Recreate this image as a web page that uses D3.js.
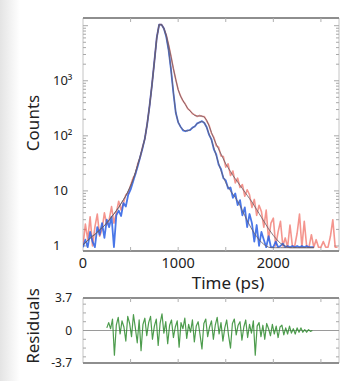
<!DOCTYPE html>
<html>
<head>
<meta charset="utf-8">
<script src="https://cdn.jsdelivr.net/npm/d3@7"></script>
<style>
  body { margin: 0; background: #fff; }
  svg { display: block; font-family: "Noto Sans", sans-serif; }
</style>
</head>
<body>
<script>
"use strict";

// time grid (ps) for the decays
const times = [
    0, 25, 50, 75, 100, 125, 150, 175, 200, 225, 250, 275, 300, 325, 350, 375,
    400, 425, 450, 475, 500, 525, 550, 575, 600, 625, 650, 675, 700, 725, 750, 775,
    800, 825, 850, 875, 900, 925, 950, 975, 1000, 1025, 1050, 1075, 1100, 1125, 1150, 1175,
    1200, 1225, 1250, 1275, 1300, 1325, 1350, 1375, 1400, 1425, 1450, 1475, 1500, 1525, 1550, 1575,
    1600, 1625, 1650, 1675, 1700, 1725, 1750, 1775, 1800, 1825, 1850, 1875, 1900, 1925, 1950, 1975,
    2000, 2025, 2050, 2075, 2100, 2125, 2150, 2175, 2200, 2225, 2250, 2275, 2300, 2325, 2350, 2375,
    2400, 2425, 2450, 2475, 2500, 2525, 2550, 2575, 2600, 2625, 2650, 2675
];

// measured counts
const redCounts = [
    1.0, 2.5, 1.3, 3.4, 1.0, 2.2, 3.8, 1.5, 2.0, 4.0, 2.4, 3.0, 5.2, 2.6, 4.0, 6.5,
    4.5, 6.0, 8.5, 9.0, 12.5, 17, 20, 31, 40, 62, 88, 168, 352, 855, 2230, 6000,
    10450, 10500, 8900, 6780, 4450, 2760, 1650, 1055, 688, 530, 432, 378, 312, 287, 252, 240,
    224, 235, 226, 224, 186, 156, 111, 94, 66, 62, 43, 42, 27, 31, 19, 23,
    14, 17, 11.5, 13, 8, 10.5, 8.5, 5, 7, 3.6, 5.5, 4.2, 2.2, 4.5, 1.3, 2.6,
    3.2, 1.0, 1.8, 2.8, 1.0, 1.4, 0.95, 2.4, 1.0, 1.0, 1.7, 3.8, 0.95, 2.8, 1.0, 0.95,
    1.6, 0.95, 1.3, 0.95, 0.95, 1.2, 0.95, 0.95, 1.5, 3.0, 0.95, 0.95
];

const blueCounts = [
    0.95, 1.3, 0.95, 1.8, 1.2, 0.95, 2.2, 1.6, 2.6, 1.4, 3.0, 2.2, 3.4, 0.95, 3.6, 4.4,
    3.5, 6.0, 5.2, 8.5, 10.5, 14.5, 20, 28, 41, 59, 90, 165, 356, 848, 2245, 6050,
    10480, 10460, 8930, 6290, 3560, 1580, 605, 262, 176, 147, 126, 121, 126, 127, 141, 148,
    168, 175, 185, 171, 143, 104, 86, 57, 46, 30, 25, 17, 15.5, 11, 11.5, 7.5,
    9, 5.5, 6.8, 3.6, 5, 2.2, 3.8, 2.6, 1.2, 2.4, 1.0, 1.8, 1.3, 0.95, 1.5, 0.95,
    0.95, 1.2, 0.95, 1.0, 1.1, 0.95, 1.0, 0.95, 1.0, 0.95, 1.0, 0.95, 1.0, 0.95, 1.0, 0.95,
    0.95, 0.95
];

// fitted decays
const redFit = [
    1.05, 1.15, 1.26, 1.38, 1.51, 1.62, 1.78, 1.95, 2.14, 2.34, 2.63, 2.95, 3.39, 3.80, 4.37, 5.01,
    5.89, 6.92, 8.13, 10, 12.3, 15.8, 21.4, 29.5, 41.7, 60.3, 89.1, 166, 355, 851, 2239, 6026,
    10470, 10470, 8913, 6761, 4467, 2754, 1660, 1047, 692, 525, 437, 372, 316, 282, 257, 234,
    229, 229, 229, 219, 191, 151, 115, 89.1, 70.8, 57.5, 46.8, 38.0, 30.9, 26.3, 22.4, 19.1,
    16.6, 14.5, 12.6, 11.0, 9.55, 8.32, 7.24, 6.31, 5.37, 4.57, 3.89, 3.31, 2.82, 2.40, 2.04, 1.78,
    1.55, 1.38, 1.23, 1.12, 1.05, 1.0, 0.95, 0.93, 0.93, 0.93, 0.93, 0.93, 0.93, 0.93, 0.93, 0.93,
    0.93, 0.93
];

const blueFit = [
    1.05, 1.15, 1.26, 1.38, 1.51, 1.62, 1.78, 1.95, 2.14, 2.34, 2.63, 2.95, 3.39, 3.80, 4.37, 5.01,
    5.89, 6.92, 8.13, 10, 12.3, 15.8, 21.4, 29.5, 41.7, 60.3, 89.1, 166, 355, 851, 2239, 6026,
    10470, 10470, 8913, 6310, 3548, 1585, 603, 263, 178, 145, 129, 123, 123, 129, 138, 151,
    166, 178, 182, 174, 141, 107, 83.2, 60.3, 43.7, 31.6, 23.4, 17.8, 14.1, 11.7, 10, 8.71,
    7.59, 6.46, 5.37, 4.37, 3.55, 2.88, 2.40, 2.0, 1.70, 1.48, 1.29, 1.17, 1.07, 1.0, 0.95, 0.93,
    0.93, 0.93, 0.93, 0.93, 0.93, 0.93, 0.93, 0.93, 0.93, 0.93, 0.93, 0.93, 0.93, 0.93, 0.93, 0.93,
    0.93, 0.93
];

// weighted residuals on their own grid
const residTimes = [
    250, 270, 290, 310, 330, 350, 370, 390, 410, 430, 450, 470, 490, 510, 530, 550,
    570, 590, 610, 630, 650, 670, 690, 710, 730, 750, 770, 790, 810, 830, 850, 870,
    890, 910, 930, 950, 970, 990, 1010, 1030, 1050, 1070, 1090, 1110, 1130, 1150, 1170, 1190,
    1210, 1230, 1250, 1270, 1290, 1310, 1330, 1350, 1370, 1390, 1410, 1430, 1450, 1470, 1490, 1510,
    1530, 1550, 1570, 1590, 1610, 1630, 1650, 1670, 1690, 1710, 1730, 1750, 1770, 1790, 1810, 1830,
    1850, 1870, 1890, 1910, 1930, 1950, 1970, 1990, 2010, 2030, 2050, 2070, 2090, 2110, 2130, 2150,
    2170, 2190, 2210, 2230, 2250, 2270, 2290, 2310, 2330, 2350, 2370, 2390, 2410
];
const residuals = [
    0.3, 0.9, 0.2, 1.3, -2.8, 0.6, 1.5, -0.4, 1.1, 0.4, -1.2, 1.6, 0.8, -0.7, 1.8, 0.3,
    -1.4, 1.2, -2.3, 0.7, 1.4, -0.6, 0.9, 1.6, -1.0, 0.5, 1.3, -1.7, 0.8, 1.9, -0.3, 1.0,
    -1.5, 0.6, 1.2, -0.8, 0.4, 1.1, -1.9, 0.9, 0.2, 1.4, -0.9, 0.7, -0.2, 1.2, -1.3, 0.5,
    1.0, -0.5, -2.1, 0.8, 1.3, -0.7, 0.4, 1.1, -1.0, 0.6, 1.5, -0.4, 0.9, -1.2, 0.3, 1.2,
    -0.6, -2.0, 0.8, 1.3, -0.5, 0.6, 1.0, -1.1, 0.4, 1.2, -0.8, 0.7, -0.3, 1.1, -2.8, 0.5,
    0.9, -0.7, 0.6, -1.0, 0.8, 0.2, -0.6, 0.7, -0.4, 0.5, -0.8, 0.4, 0.6, -0.5, 0.3, -0.4,
    0.5, -0.3, 0.2, -0.4, 0.3, -0.2, 0.3, -0.2, 0.1, -0.2, 0.1, -0.1, 0.0
];

const xTicks = [0, 1000, 2000];
const yTicks = [1, 10, 100, 1000];
const yTickLabels = ["1", "10", "10²", "10³"];
const residTicks = [3.7, 0, -3.7];
const residTickLabels = ["3.7", "0", "-3.7"];

const W = 349, H = 381;
const plot = { left: 83, right: 339, top: 18, bottom: 251 };
const resid = { top: 298, bottom: 363 };

const svg = d3.select("body").append("svg")
    .attr("width", W)
    .attr("height", H);

// soft shading on the left edge
const defs = svg.append("defs");
const grad = defs.append("linearGradient").attr("id", "edge");
grad.append("stop").attr("offset", "0%").attr("stop-color", "#e4e4e4");
grad.append("stop").attr("offset", "100%").attr("stop-color", "#ffffff");
svg.append("rect")
    .attr("x", 0).attr("y", 0)
    .attr("width", 20).attr("height", H)
    .attr("fill", "url(#edge)");

defs.append("clipPath").attr("id", "clipMain")
    .append("rect")
    .attr("x", plot.left).attr("y", plot.top)
    .attr("width", plot.right - plot.left).attr("height", plot.bottom - plot.top);

const x = d3.scaleLinear().domain([0, 2690]).range([plot.left, plot.right]);
const y = d3.scaleLog().domain([0.81, 13800]).range([plot.bottom, plot.top]);
const yr = d3.scaleLinear().domain([-3.7, 3.7]).range([resid.bottom, resid.top]);

// Frames
function frame(top, bottom) {
    const g = svg.append("g");
    g.append("line")
        .attr("x1", plot.left).attr("x2", plot.left)
        .attr("y1", top).attr("y2", bottom)
        .attr("stroke", "#c4c4c4").attr("stroke-width", 1);
    g.append("line")
        .attr("x1", plot.right).attr("x2", plot.right)
        .attr("y1", top).attr("y2", bottom)
        .attr("stroke", "#c4c4c4").attr("stroke-width", 1);
    g.append("line")
        .attr("x1", plot.left).attr("x2", plot.right)
        .attr("y1", top).attr("y2", top)
        .attr("stroke", "#8e8e8e").attr("stroke-width", 2);
    g.append("line")
        .attr("x1", plot.left).attr("x2", plot.right)
        .attr("y1", bottom).attr("y2", bottom)
        .attr("stroke", "#8e8e8e").attr("stroke-width", 2);
    // ticks along top and bottom, every 500 ps
    const xt = d3.range(500, 2690, 500);
    g.selectAll(null).data(xt).join("line")
        .attr("x1", (d) => x(d)).attr("x2", (d) => x(d))
        .attr("y1", bottom).attr("y2", bottom - 4)
        .attr("stroke", "#b0b0b0");
    g.selectAll(null).data(xt).join("line")
        .attr("x1", (d) => x(d)).attr("x2", (d) => x(d))
        .attr("y1", top).attr("y2", top + 4)
        .attr("stroke", "#b0b0b0");
    return g;
}

frame(plot.top, plot.bottom);
frame(resid.top, resid.bottom);

// log ticks on both sides of the counts panel
const minor = [];
for (const dec of [1, 10, 100, 1000, 10000]) {
    for (let k = 1; k <= 9; k++) {
        const v = dec * k;
        if (v >= 0.81 && v <= 13800) minor.push({ v: v, major: k === 1 });
    }
}
const tickG = svg.append("g").attr("stroke", "#a8a8a8");
tickG.selectAll(null).data(minor).join("line")
    .attr("x1", plot.left).attr("x2", (d) => plot.left + (d.major ? 5 : 3))
    .attr("y1", (d) => y(d.v)).attr("y2", (d) => y(d.v));
tickG.selectAll(null).data(minor).join("line")
    .attr("x1", plot.right).attr("x2", (d) => plot.right - (d.major ? 5 : 3))
    .attr("y1", (d) => y(d.v)).attr("y2", (d) => y(d.v));

// residual side ticks
const rt = [-3, -2, -1, 0, 1, 2, 3];
tickG.selectAll(null).data(rt).join("line")
    .attr("x1", plot.left).attr("x2", plot.left + 3)
    .attr("y1", (d) => yr(d)).attr("y2", (d) => yr(d));
tickG.selectAll(null).data(rt).join("line")
    .attr("x1", plot.right).attr("x2", plot.right - 3)
    .attr("y1", (d) => yr(d)).attr("y2", (d) => yr(d));

// Data
const main = svg.append("g").attr("clip-path", "url(#clipMain)");

const line = d3.line()
    .x((d, i) => x(times[i]))
    .y((d) => y(d));

main.append("path")
    .datum(redCounts)
    .attr("fill", "none")
    .attr("stroke", "#f0685e")
    .attr("stroke-opacity", 0.7)
    .attr("stroke-width", 1.6)
    .attr("stroke-linejoin", "round")
    .attr("d", line);

main.append("path")
    .datum(blueCounts)
    .attr("fill", "none")
    .attr("stroke", "#2a5fe4")
    .attr("stroke-opacity", 0.85)
    .attr("stroke-width", 1.8)
    .attr("stroke-linejoin", "round")
    .attr("d", line);

for (const fit of [redFit, blueFit]) {
    main.append("path")
        .datum(fit)
        .attr("fill", "none")
        .attr("stroke", "#6b5f6a")
        .attr("stroke-opacity", 0.85)
        .attr("stroke-width", 1)
        .attr("d", line);
}

// Residuals
svg.append("line")
    .attr("x1", plot.left).attr("x2", plot.right)
    .attr("y1", yr(0)).attr("y2", yr(0))
    .attr("stroke", "#9a9a9a").attr("stroke-width", 1.2);

svg.append("path")
    .datum(residuals)
    .attr("fill", "none")
    .attr("stroke", "#2e8b2e")
    .attr("stroke-opacity", 0.85)
    .attr("stroke-width", 1.2)
    .attr("stroke-linejoin", "round")
    .attr("d", d3.line()
        .x((d, i) => x(residTimes[i]))
        .y((d) => yr(d)));

// Labels
svg.append("g")
    .selectAll(null).data(yTicks).join("text")
    .attr("x", 53)
    .attr("y", (d) => y(d) + 4.5)
    .attr("font-size", 13)
    .attr("fill", "#222")
    .text((d, i) => yTickLabels[i]);

svg.append("g")
    .selectAll(null).data(residTicks).join("text")
    .attr("x", 72)
    .attr("y", (d) => yr(d) + 4)
    .attr("text-anchor", "end")
    .attr("font-size", 12)
    .attr("fill", "#222")
    .text((d, i) => residTickLabels[i]);

svg.append("g")
    .selectAll(null).data(xTicks).join("text")
    .attr("x", (d) => x(d))
    .attr("y", 268)
    .attr("text-anchor", "middle")
    .attr("font-size", 14.5)
    .attr("fill", "#222")
    .text((d) => d);

svg.append("text")
    .attr("x", 228).attr("y", 289)
    .attr("text-anchor", "middle")
    .attr("font-size", 17)
    .attr("fill", "#222")
    .text("Time (ps)");

svg.append("text")
    .attr("transform", "translate(39,123) rotate(-90)")
    .attr("text-anchor", "middle")
    .attr("font-size", 17)
    .attr("fill", "#222")
    .text("Counts");

svg.append("text")
    .attr("transform", "translate(39,326) rotate(-90)")
    .attr("text-anchor", "middle")
    .attr("font-size", 17)
    .attr("fill", "#222")
    .text("Residuals");
</script>
</body>
</html>
